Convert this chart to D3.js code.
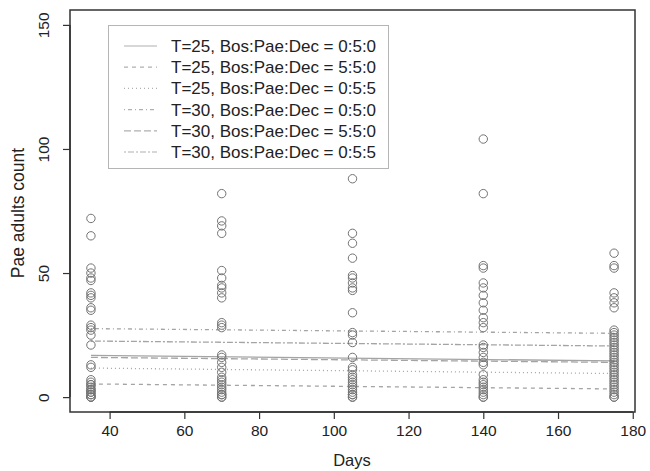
<!DOCTYPE html>
<html>
<head>
<meta charset="utf-8">
<script src="https://cdn.jsdelivr.net/npm/d3@7/dist/d3.min.js"></script>
<style>
  body { margin: 0; background: #fff; }
  svg text { font-family: "Liberation Sans", Arial, sans-serif; fill: #222; }
</style>
</head>
<body>
<svg id="chart" width="650" height="471"></svg>
<script>
// observed counts per sampling day
var days = [35, 70, 105, 140, 175];
var counts35 = [72, 65, 52, 50, 48, 47, 42, 41, 40, 36, 35, 29, 28, 27, 25, 21, 13, 12, 7, 6, 5, 5, 4, 3, 3, 2, 2, 1, 1, 0, 0, 0];
var counts70 = [82, 71, 69, 66, 51, 48, 45, 44, 42, 40, 30, 29, 28, 17, 16, 14, 12, 10, 8, 7, 6, 5, 4, 3, 2, 1, 1, 0, 0];
var counts105 = [88, 66, 62, 56, 49, 48, 46, 44, 43, 34, 26, 25, 22, 16, 12, 11, 9, 8, 7, 6, 5, 4, 3, 2, 1, 1, 0, 0];
var counts140 = [104, 82, 53, 52, 46, 44, 41, 38, 35, 32, 30, 28, 21, 20, 18, 16, 14, 13, 9, 7, 6, 5, 4, 3, 2, 1, 0, 0];
var counts175 = [58, 53, 52, 42, 40, 38, 36, 27, 26, 25, 24, 23, 22, 21, 20, 19, 18, 17, 16, 15, 14, 13, 12, 11, 10, 9, 8, 7, 6, 5, 4, 3, 2, 1, 0, 0];

// fitted lines: value at day 35 and at day 175
var seriesNames = ["T=25, Bos:Pae:Dec = 0:5:0", "T=25, Bos:Pae:Dec = 5:5:0", "T=25, Bos:Pae:Dec = 0:5:5",
                   "T=30, Bos:Pae:Dec = 0:5:0", "T=30, Bos:Pae:Dec = 5:5:0", "T=30, Bos:Pae:Dec = 0:5:5"];
var fitStart = [16.8, 5.3, 11.7, 27.6, 16.0, 22.6];
var fitEnd = [14.6, 3.3, 9.5, 25.7, 14.0, 20.6];
var dashes = [null, "4,4", "1,3", "1,3,4,3", "7,3", "2,2,6,2"];

var xTicks = [40, 60, 80, 100, 120, 140, 160, 180];
var yTicks = [0, 50, 100, 150];

var svg = d3.select("#chart");
var x = d3.scaleLinear().domain([29.4, 180.6]).range([70, 635]);
var y = d3.scaleLinear().domain([-6, 156]).range([412, 10]);

var allCounts = [counts35, counts70, counts105, counts140, counts175];
var points = [];
allCounts.forEach(function (col, i) {
    col.forEach(function (v) { points.push({ day: days[i], v: v }); });
});

// fitted lines
var lineColor = "#a4a4a4";
seriesNames.forEach(function (name, i) {
    svg.append("line")
        .attr("x1", x(days[0])).attr("x2", x(days[days.length - 1]))
        .attr("y1", y(fitStart[i])).attr("y2", y(fitEnd[i]))
        .attr("stroke", lineColor)
        .attr("stroke-width", 1.3)
        .attr("stroke-dasharray", dashes[i]);
});

svg.append("g").selectAll("circle").data(points).enter().append("circle")
    .attr("cx", function (d) { return x(d.day); })
    .attr("cy", function (d) { return y(d.v); })
    .attr("r", 4.2)
    .attr("fill", "none")
    .attr("stroke", "#737373")
    .attr("stroke-width", 1);

// box
svg.append("rect")
    .attr("x", 70).attr("y", 10).attr("width", 565).attr("height", 402)
    .attr("fill", "none").attr("stroke", "#333").attr("stroke-width", 1.5);

// axes
var xAxis = svg.append("g").attr("transform", "translate(0,412)")
    .call(d3.axisBottom(x).tickValues(xTicks).tickSize(7).tickPadding(6));
var yAxis = svg.append("g").attr("transform", "translate(70,0)")
    .call(d3.axisLeft(y).tickValues(yTicks).tickSize(7).tickPadding(6));
[xAxis, yAxis].forEach(function (g) {
    g.select(".domain").attr("stroke", "#333").attr("stroke-width", 1.5);
    g.selectAll(".tick line").attr("stroke", "#333").attr("stroke-width", 1.2);
    g.selectAll("text").attr("font-size", 15.5).attr("fill", "#222")
        .style("font-family", "Liberation Sans, Arial, sans-serif");
});
xAxis.select(".domain").attr("d", "M" + x(40) + ",0H" + x(180));
yAxis.select(".domain").attr("d", "M0," + y(0) + "V" + y(150));
yAxis.selectAll(".tick text")
    .attr("text-anchor", "middle")
    .attr("transform", "rotate(-90)")
    .attr("x", 0).attr("y", -21).attr("dy", "0");

svg.append("text").attr("x", 352).attr("y", 466).attr("text-anchor", "middle")
    .attr("font-size", 16.5).text("Days");
svg.append("text").attr("transform", "translate(24,213) rotate(-90)")
    .attr("text-anchor", "middle").attr("font-size", 17.5).text("Pae adults count");

// legend
var legend = svg.append("g");
legend.append("rect").attr("x", 108.5).attr("y", 25.5).attr("width", 280).attr("height", 143)
    .attr("fill", "#fff").attr("stroke", "#b5b5b5").attr("stroke-width", 1);
seriesNames.forEach(function (name, i) {
    var ly = 46 + i * 21.2;
    legend.append("line").attr("x1", 124).attr("x2", 157).attr("y1", ly).attr("y2", ly)
        .attr("stroke", "#b0b0b0").attr("stroke-width", 1.2)
        .attr("stroke-dasharray", dashes[i]);
    legend.append("text").attr("x", 171).attr("y", ly + 6)
        .attr("font-size", 17).text(name);
});
</script>
</body>
</html>
